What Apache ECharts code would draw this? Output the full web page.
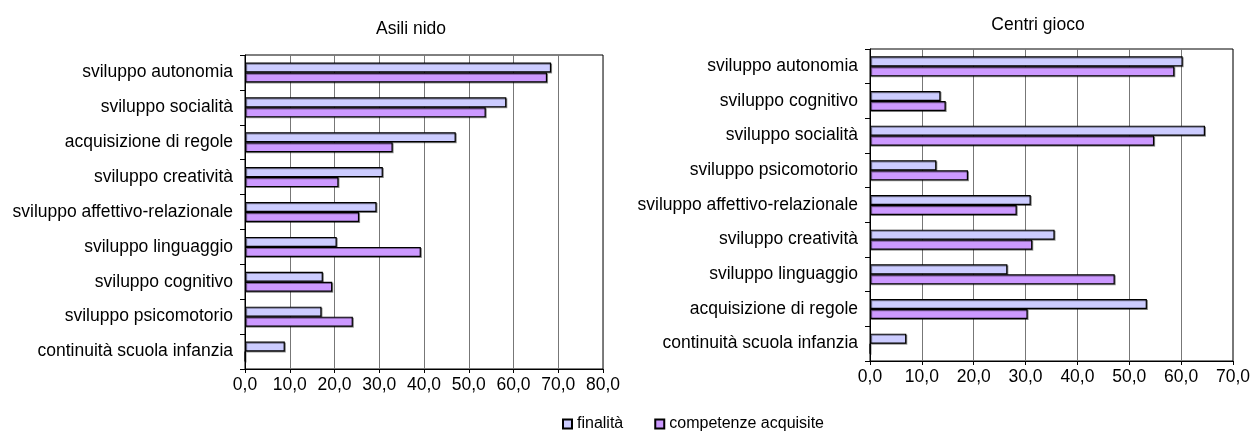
<!DOCTYPE html>
<html>
<head>
<meta charset="utf-8">
<script src="https://cdn.jsdelivr.net/npm/echarts@6/dist/echarts.min.js"></script>
<style>
  html, body { margin: 0; padding: 0; background: #fff; }
  #chart { width: 1253px; height: 432px; }
</style>
</head>
<body>
<div id="chart"></div>
<script>
// Asili nido: obiettivi dichiarati (finalità) e competenze acquisite, in %
const nidoCategories = [
  'sviluppo autonomia',
  'sviluppo socialità',
  'acquisizione di regole',
  'sviluppo creatività',
  'sviluppo affettivo-relazionale',
  'sviluppo linguaggio',
  'sviluppo cognitivo',
  'sviluppo psicomotorio',
  'continuità scuola infanzia'
];
const nidoFinalita = [68.4, 58.4, 47.1, 30.8, 29.4, 20.5, 17.4, 17.1, 8.9];
const nidoCompetenze = [67.5, 53.8, 33.0, 20.9, 25.5, 39.3, 19.5, 24.1, 0];

// Centri gioco
const giocoCategories = [
  'sviluppo autonomia',
  'sviluppo cognitivo',
  'sviluppo socialità',
  'sviluppo psicomotorio',
  'sviluppo affettivo-relazionale',
  'sviluppo creatività',
  'sviluppo linguaggio',
  'acquisizione di regole',
  'continuità scuola infanzia'
];
const giocoFinalita = [60.3, 13.6, 64.6, 12.8, 31.0, 35.6, 26.5, 53.4, 7.0];
const giocoCompetenze = [58.7, 14.6, 54.8, 18.9, 28.3, 31.3, 47.2, 30.4, 0];

const seriesNames = ['finalità', 'competenze acquisite'];
const seriesColors = ['#CCCCFF', '#CC99FF'];

const FONT = '"Liberation Sans", Arial, sans-serif';
const FS = 17.5;

const chart = echarts.init(document.getElementById('chart'), null, { renderer: 'canvas' });

function valueAxis(gridIndex, max) {
  return {
    type: 'value', gridIndex: gridIndex, min: 0, max: max, interval: 10,
    axisLine: { show: true, lineStyle: { color: '#000', width: 1 } },
    axisTick: { show: true, length: 4, lineStyle: { color: '#000' } },
    axisLabel: {
      color: '#000', fontFamily: FONT, fontSize: FS, margin: 7,
      formatter: v => v.toFixed(1).replace('.', ',')
    },
    splitLine: { show: true, lineStyle: { color: '#777', width: 1 } }
  };
}

function categoryAxis(gridIndex, cats) {
  return {
    type: 'category', gridIndex: gridIndex, data: cats, inverse: true,
    axisLine: { show: true, lineStyle: { color: '#000', width: 1 } },
    axisTick: { show: true, length: 5, lineStyle: { color: '#000' } },
    axisLabel: { color: '#000', fontFamily: FONT, fontSize: FS, margin: 12 },
    splitLine: { show: false }
  };
}

function barSeries(name, idx, axisIdx, data) {
  return {
    name: name, type: 'bar', xAxisIndex: axisIdx, yAxisIndex: axisIdx,
    data: data, barGap: '0%', barWidth: 10,
    itemStyle: {
      color: seriesColors[idx], borderColor: '#000', borderWidth: 1.2,
      shadowColor: 'rgba(0,0,0,0.4)', shadowOffsetX: 1, shadowOffsetY: 1, shadowBlur: 0
    },
    emphasis: { disabled: true },
    animation: false
  };
}

chart.setOption({
  animation: false,
  textStyle: { fontFamily: FONT },
  title: [
    { text: 'Asili nido', left: 406, top: 15, textAlign: 'center',
      textStyle: { fontFamily: FONT, fontSize: FS, fontWeight: 'normal', color: '#000' } },
    { text: 'Centri gioco', left: 1033, top: 11, textAlign: 'center',
      textStyle: { fontFamily: FONT, fontSize: FS, fontWeight: 'normal', color: '#000' } }
  ],
  legend: {
    data: seriesNames, top: 411, left: 557, itemWidth: 9, itemHeight: 9, itemGap: 31,
    icon: 'rect',
    textStyle: { fontFamily: FONT, fontSize: 16, color: '#000' },
    selectedMode: false
  },
  grid: [
    { left: 245, right: 650, top: 55, bottom: 63, show: true, borderColor: '#000', borderWidth: 1, containLabel: false },
    { left: 870, right: 18, top: 49, bottom: 71, show: true, borderColor: '#000', borderWidth: 1, containLabel: false }
  ],
  xAxis: [valueAxis(0, 80), valueAxis(1, 70)],
  yAxis: [categoryAxis(0, nidoCategories), categoryAxis(1, giocoCategories)],
  series: [
    barSeries(seriesNames[0], 0, 0, nidoFinalita),
    barSeries(seriesNames[1], 1, 0, nidoCompetenze),
    barSeries(seriesNames[0], 0, 1, giocoFinalita),
    barSeries(seriesNames[1], 1, 1, giocoCompetenze)
  ]
});
</script>
</body>
</html>
